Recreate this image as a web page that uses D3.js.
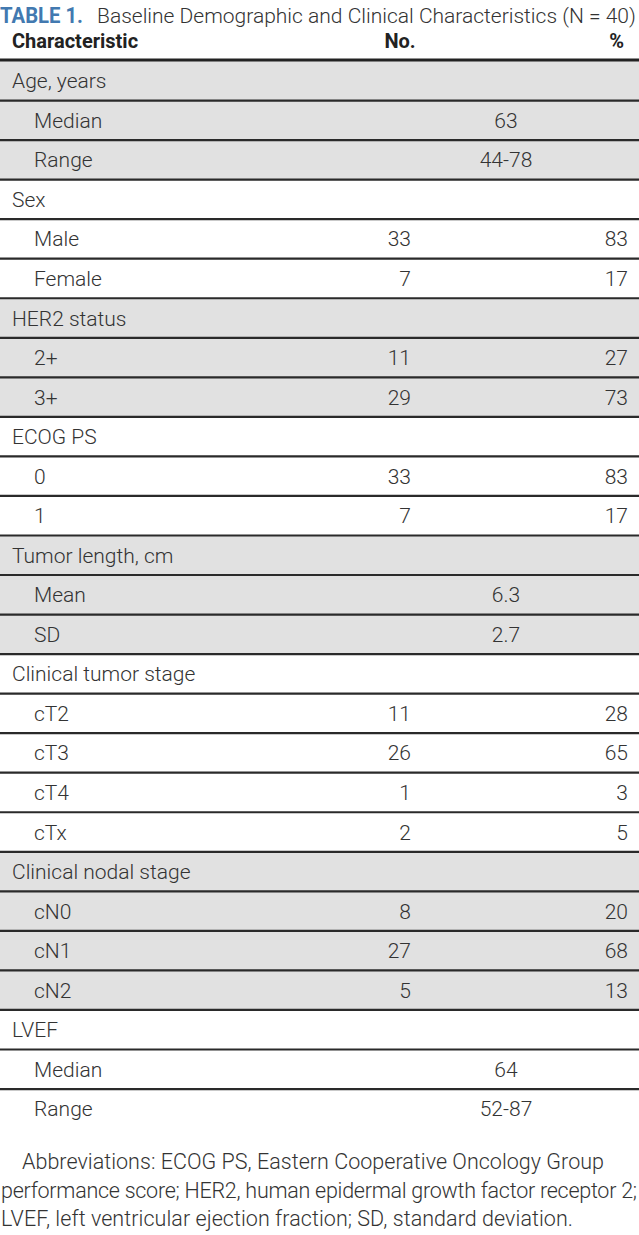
<!DOCTYPE html>
<html><head><meta charset="utf-8">
<script src="https://cdn.jsdelivr.net/npm/d3@7"></script>
<style>
html,body{margin:0;padding:0;background:#fff;}
svg{display:block;}
</style></head>
<body>
<svg id="chart" width="639" height="1235"></svg>
<script>
// ---- data ----
const titleLabel = "TABLE 1.";
const titleText = "Baseline Demographic and Clinical Characteristics (N = 40)";
const headers = ["Characteristic", "No.", "%"];
const rowLabels = ["Age, years","Median","Range","Sex","Male","Female","HER2 status","2+","3+","ECOG PS","0","1",
  "Tumor length, cm","Mean","SD","Clinical tumor stage","cT2","cT3","cT4","cTx","Clinical nodal stage","cN0","cN1","cN2",
  "LVEF","Median","Range"];
const rowIndent = [0,1,1,0,1,1,0,1,1,0,1,1,0,1,1,0,1,1,1,1,0,1,1,1,0,1,1];
const rowGroup  = [0,0,0,1,1,1,2,2,2,3,3,3,4,4,4,5,5,5,5,5,6,6,6,6,7,7,7];
const noValues  = [null,null,null,null,33,7,null,11,29,null,33,7,null,null,null,null,11,26,1,2,null,8,27,5,null,null,null];
const pctValues = [null,null,null,null,83,17,null,27,73,null,83,17,null,null,null,null,28,65,3,5,null,20,68,13,null,null,null];
const spanValues= [null,"63","44-78",null,null,null,null,null,null,null,null,null,null,"6.3","2.7",null,null,null,null,null,null,null,null,null,null,"64","52-87"];
const footnote = ["Abbreviations: ECOG PS, Eastern Cooperative Oncology Group",
  "performance score; HER2, human epidermal growth factor receptor 2;",
  "LVEF, left ventricular ejection fraction; SD, standard deviation."];

// ---- layout ----
const W = 639;
const FONT = "Roboto, 'Liberation Sans', sans-serif";
const txt = "#333";
const svg = d3.select("#chart");

const top0 = 61, rowH = 39.54;
const y = d3.scaleBand().domain(d3.range(rowLabels.length)).range([top0, top0 + rowH*rowLabels.length]).padding(0);
const colX = { label0: 12, label1: 34, noRight: 411, pctRight: 628, span: 506, noHead: 400, pctHead: 624 };

// title
svg.append("text").attr("x",0).attr("y",23).attr("font-family",FONT).attr("font-size",22)
  .attr("fill","#4279b0").attr("font-weight",700).attr("textLength",83).attr("lengthAdjust","spacingAndGlyphs").text(titleLabel);
svg.append("text").attr("x",97).attr("y",23).attr("font-family",FONT).attr("font-size",21)
  .attr("fill",txt).attr("font-weight",300).text(titleText);

// header
const hy = 48;
const hg = svg.append("g").attr("font-family",FONT).attr("font-weight",700).attr("font-size",20).attr("fill","#222");
hg.append("text").attr("x",colX.label0).attr("y",hy).text(headers[0]);
hg.append("text").attr("x",colX.noHead).attr("y",hy).attr("text-anchor","middle").text(headers[1]);
hg.append("text").attr("x",colX.pctHead).attr("y",hy).attr("text-anchor","end").text(headers[2]);

// row backgrounds
const rows = svg.append("g");
const idx = d3.range(rowLabels.length);
rows.selectAll("rect").data(idx).join("rect")
  .attr("x",0).attr("y",i=>y(i)).attr("width",W).attr("height",y.bandwidth())
  .attr("fill",i=> rowGroup[i]%2===0 ? "#e1e1e1" : "#fff");

// row separator lines
rows.selectAll("line.sep").data(idx.slice(0,-1)).join("line").attr("class","sep")
  .attr("x1",0).attr("x2",W).attr("y1",i=>y(i)+y.bandwidth()).attr("y2",i=>y(i)+y.bandwidth())
  .attr("stroke","#2a2a2a").attr("stroke-width",2.2);
// header rule
svg.append("line").attr("x1",0).attr("x2",W).attr("y1",top0-1).attr("y2",top0-1).attr("stroke","#222").attr("stroke-width",3);

const fs = 21;
const ty = i => y(i) + y.bandwidth()/2 + 7.5;
const tg = svg.append("g").attr("font-family",FONT).attr("font-size",fs).attr("font-weight",300).attr("fill",txt);
tg.selectAll("text.lab").data(idx).join("text").attr("class","lab")
  .attr("x",i=> rowIndent[i] ? colX.label1 : colX.label0).attr("y",ty).text(i=>rowLabels[i]);
tg.selectAll("text.no").data(idx.filter(i=>noValues[i]!==null)).join("text").attr("class","no")
  .attr("x",colX.noRight).attr("y",ty).attr("text-anchor","end").text(i=>noValues[i]);
tg.selectAll("text.pct").data(idx.filter(i=>pctValues[i]!==null)).join("text").attr("class","pct")
  .attr("x",colX.pctRight).attr("y",ty).attr("text-anchor","end").text(i=>pctValues[i]);
tg.selectAll("text.span").data(idx.filter(i=>spanValues[i]!==null)).join("text").attr("class","span")
  .attr("x",colX.span).attr("y",ty).attr("text-anchor","middle").text(i=>spanValues[i]);

// footnote
const fnX = [22, 1, 1], fnEnd = [604, 637, 573];
svg.append("g").attr("font-family",FONT).attr("font-size",21.5).attr("font-weight",300).attr("fill",txt)
  .selectAll("text").data(footnote).join("text")
  .attr("x",(d,i)=> fnX[i]).attr("y",(d,i)=>1169 + i*28.5)
  .attr("textLength",(d,i)=>fnEnd[i]-fnX[i]).attr("lengthAdjust","spacing").text(d=>d);
</script>
</body></html>
